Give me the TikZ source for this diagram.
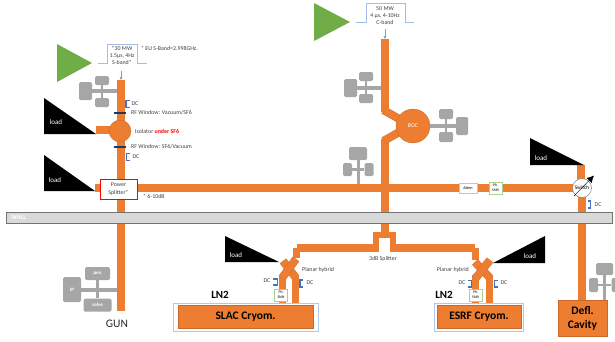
\documentclass[tikz,border=0pt]{standalone}
\usepackage{fontspec}
\setmainfont{Carlito}
\usetikzlibrary{arrows.meta, calc}
\definecolor{wgorange}{HTML}{ED7D31}
\definecolor{wgedge}{HTML}{C9682A}
\definecolor{klygreen}{HTML}{70AD47}
\definecolor{pumpgray}{HTML}{A6A6A6}
\definecolor{dcblue}{HTML}{4472C4}
\definecolor{pulseblue}{HTML}{A3BDE8}
\definecolor{shiftgreen}{HTML}{A9D18E}
\definecolor{boxblue}{HTML}{B4C7E7}
\definecolor{windownavy}{HTML}{1F3864}

\begin{document}
\begin{tikzpicture}[
    x=1pt,y=-1pt,
    wg/.style={draw=wgorange, line width=8pt},
    wgdiag/.style={draw=wgedge, line width=.3pt, double=wgorange, double distance=7.4pt},
    wgthin/.style={draw=wgorange, line width=7pt},
    pumpbox/.style={draw=none, rectangle, rounded corners=1.5pt, fill=pumpgray, inner sep=0pt, text=white, font=\fontsize{5}{5}\selectfont\bfseries},
    pumpbar/.style={draw=pumpgray, line width=2.5pt},
    labeltext/.style={inner sep=0pt, text=black!75, font=\fontsize{5.9}{7}\selectfont, align=center},
    loadtri/.style={fill=black},
    loadtext/.style={inner sep=0pt, text=white, font=\fontsize{7}{8}\selectfont},
    kly/.style={fill=klygreen},
    pulse/.style={draw=pulseblue, line width=.7pt},
    dcmark/.style={draw=dcblue, line width=1.3pt},
    window/.style={draw=windownavy, line width=1.1pt},
    shiftbox/.style={draw=shiftgreen, line width=.6pt, fill=white, inner sep=0pt, minimum width=13pt, minimum height=12pt, align=center, font=\fontsize{3.8}{5}\selectfont},
    cryobox/.style={draw=wgedge, line width=.3pt, fill=wgorange, inner sep=0pt, align=center, font=\fontsize{11.5}{14}\selectfont\bfseries},
    outerbox/.style={draw=boxblue, line width=.7pt}
]
    \useasboundingbox (0,0) rectangle (615,341);

    % --- Points where waveguides end ---
    \coordinate (sin) at (121,80);
    \coordinate (gun) at (121,311);
    \coordinate (cin) at (385,39);
    \coordinate (ctop) at (385,112);
    \coordinate (cbot) at (385,139);
    \coordinate (tee) at (385,235);
    \coordinate (armL) at (296.5,247.5);
    \coordinate (armR) at (475,248);
    \coordinate (hybL) at (296.5,258);
    \coordinate (hybR) at (475,260);

    % --- S-band line ---
    \draw[wg] (sin) -- (gun);
    \draw[wg] (96,130) -- (110,130);
    \draw[wg] (95,188) -- (105,188);
    \draw[wg] (130,188) -- (573,188);

    % --- C-band line ---
    \draw[wg] (cin) -- (ctop);
    \draw[wg] (cbot) -- (tee);
    \draw[wgdiag] (383.5,110) -- (401,120);
    \draw[wgdiag] (383.5,141) -- (401,131);
    \node[circle, draw=wgedge, line width=.3pt, fill=wgorange, minimum size=34pt, inner sep=0pt, text=white, font=\fontsize{5.8}{6}\selectfont] (boc) at (413,126) {BOC};

    % --- 3dB Splitter ---
    \fill[wgorange] (373,232) rectangle (396,238);
    \fill[wgorange] (373,232) rectangle (379,252);
    \fill[wgorange] (390,232) rectangle (396,252);
    \draw[wg] (armL) -- (376,247.5);
    \draw[wg] (393,248) -- (armR);
    \draw[wgthin] (armL) -- (hybL);
    \draw[wgthin] (armR) -- (hybR);

    % --- Hybrids and cryomodule feeds ---
    \draw[wgthin] (282.5,275) -- (282.5,304);
    \draw[wgthin] (295.5,275) -- (295.5,304);
    \draw[wgdiag] (283,261) -- (296,278);
    \draw[wgdiag] (296,259) -- (282,278);
    \draw[wgthin] (475.5,275) -- (475.5,304);
    \draw[wgthin] (489.5,275) -- (489.5,304);
    \draw[wgdiag] (475,262) -- (490,278);
    \draw[wgdiag] (490,260) -- (475,279);

    % --- Deflector line ---
    \draw[wg] (581,165) -- (581,180);
    \draw[wg] (582,196) -- (582,301);

    % --- WALL ---
    \node[draw=black!55, line width=.5pt, fill=black!15, rectangle, minimum width=606pt, minimum height=11pt, inner sep=0pt] (wall) at (309,217.5) {};
    \node[inner sep=0pt, anchor=west, text=white, font=\fontsize{6.5}{7}\selectfont\bfseries] (walltext) at (11,217.5) {WALL};

    % --- Klystrons ---
    \fill[kly] (57,44) -- (92,63) -- (57,82) -- cycle;
    \fill[kly] (314,3) -- (350,22) -- (314,41) -- cycle;
    \draw[pulse] (98,63) -- (107,63) -- (107,44) -- (137,44) -- (137,63) -- (147,63);
    \draw[pulse] (356,22) -- (366,22) -- (366,3) -- (405,3) -- (405,22) -- (414,22);
    \node[labeltext] (sband) at (122,55) {*30 MW\\1.5µs, 4Hz\\S-band*};
    \node[labeltext] (cband) at (385,16) {50 MW\\4 µs, 4-10Hz\\C-band};
    \node[labeltext, anchor=west] (euband) at (141,48) {* EU S-Band=2.998GHz.};
    \draw[-{Latex[length=3pt,width=3pt]}, draw=dcblue!70, line width=.5pt] (121,71) -- (sin);
    \draw[-{Latex[length=3pt,width=3pt]}, draw=dcblue!70, line width=.5pt] (385,29) -- (cin);

    % --- Loads ---
    \fill[loadtri] (44,98) -- (44,134) -- (96,134) -- cycle;
    \fill[loadtri] (44,155) -- (44,191) -- (95,191) -- cycle;
    \fill[loadtri] (225,236) -- (225,262) -- (279,262) -- cycle;
    \fill[loadtri] (545,236) -- (545,263) -- (493,263) -- cycle;
    \fill[loadtri] (530,138) -- (530,165) -- (584,165) -- cycle;
    \node[loadtext] (load1) at (56,122) {load};
    \node[loadtext] (load2) at (55,180) {load};
    \node[loadtext] (load3) at (236,255) {load};
    \node[loadtext] (load4) at (530,256) {load};
    \node[loadtext] (load5) at (541,158) {load};

    % --- Isolator and Power Splitter ---
    \node[circle, draw=wgedge, line width=.3pt, fill=wgorange, minimum size=22pt, inner sep=0pt] (isolator) at (120,131) {};
    \node[labeltext, anchor=west] (isotext) at (135,131) {Isolator \textcolor{red}{\textbf{under SF6}}};
    \node[draw=red, line width=1pt, fill=white, rectangle, minimum width=37pt, minimum height=20pt, inner sep=0pt, align=center, text=black!75, font=\fontsize{5.9}{8}\selectfont] (splitter) at (118.5,189) {Power\\Splitter*};
    \node[labeltext, anchor=west] (splitdb) at (143,196) {* 6-10dB};

    % --- RF windows ---
    \draw[window] (114,113) -- (126,113);
    \draw[window] (114,147) -- (126,147);
    \node[labeltext, anchor=west] (rfwin1) at (131,113) {RF Window: Vacuum/SF6};
    \node[labeltext, anchor=west] (rfwin2) at (131,147) {RF Window: SF6/Vacuum};

    % --- Directional couplers ---
    \draw[dcmark] (129.5,100.5) -- (126,100.5) -- (126,107.5) -- (129.5,107.5);
    \draw[dcmark] (130,153.5) -- (126.5,153.5) -- (126.5,160.5) -- (130,160.5);
    \draw[dcmark] (273,279) -- (277.5,279) -- (277.5,285) -- (273,285);
    \draw[dcmark] (303,280) -- (300,280) -- (300,287) -- (303,287);
    \draw[dcmark] (468,280.5) -- (471.5,280.5) -- (471.5,287) -- (468,287);
    \draw[dcmark] (498,280.5) -- (494.5,280.5) -- (494.5,287) -- (498,287);
    \draw[dcmark] (587.5,201) -- (590.5,201) -- (590.5,208) -- (587.5,208);
    \node[labeltext] (dc1) at (135,104) {DC};
    \node[labeltext] (dc2) at (136,157) {DC};
    \node[labeltext] (dc3) at (267,281) {DC};
    \node[labeltext] (dc4) at (310,283) {DC};
    \node[labeltext] (dc5) at (462,283) {DC};
    \node[labeltext] (dc6) at (504,283) {DC};
    \node[labeltext] (dc7) at (598,205) {DC};

    % --- Atten, Phase shifters and Switch ---
    \node[draw=boxblue, line width=.6pt, fill=white, inner sep=0pt, minimum width=18pt, minimum height=10pt, font=\fontsize{4.2}{5}\selectfont] (atten) at (468,188) {Atten};
    \node[shiftbox] (shift1) at (495.5,188) {Ph.\\Shift};
    \node[shiftbox] (shift2) at (281,295) {Ph.\\Shift};
    \node[shiftbox] (shift3) at (475.5,295) {Ph.\\Shift};
    \node[circle, draw=black!50, line width=.5pt, fill=white, minimum size=19pt, inner sep=0pt, font=\fontsize{5.4}{6}\selectfont] (switch) at (582,188) {Switch};
    \draw[-{Latex[length=7pt,width=7pt]}, line width=.4pt] (574,196) -- (594,175.5);

    % --- Hybrid labels ---
    \node[labeltext, anchor=west] (hyb1) at (302,270) {Planar hybrid};
    \node[labeltext, anchor=east] (hyb2) at (469,270) {Planar hybrid};
    \node[labeltext] (split3db) at (383,259) {3dB Splitter};

    % --- Cryomodules ---
    \draw[outerbox] (173,303) rectangle (318,331);
    \draw[outerbox] (434,303) rectangle (523,331);
    \node[cryobox, minimum width=135pt, minimum height=23pt] (slac) at (245.5,316.5) {SLAC Cryom.};
    \node[cryobox, minimum width=84pt, minimum height=23pt] (esrf) at (479,316.5) {ESRF Cryom.};
    \node[inner sep=0pt, text=black, font=\fontsize{11}{12}\selectfont\bfseries] (ln2a) at (220,295) {LN2};
    \node[inner sep=0pt, text=black, font=\fontsize{11}{12}\selectfont\bfseries] (ln2b) at (444,295) {LN2};
    \node[cryobox, minimum width=49pt, minimum height=36pt] (defl) at (582.5,318) {Defl.\\Cavity};
    \node[inner sep=0pt, text=black!85, font=\fontsize{11.5}{13}\selectfont] (guntext) at (117,324) {GUN};

    % --- Pump at S-band top ---
    \node[pumpbox, minimum width=13pt, minimum height=18pt] (ipa) at (85.5,91) {};
    \node[pumpbox, minimum width=14pt, minimum height=9pt] (pena) at (102,80.5) {};
    \node[pumpbox, minimum width=14pt, minimum height=9pt] (vala) at (102,102.5) {};
    \draw[pumpbar, line width=3.5pt] (ipa) -- (117,91);
    \draw[pumpbar] (pena) -- (vala);

    % --- Pump at C-band top ---
    \node[pumpbox, minimum width=13pt, minimum height=18pt] (ipb) at (350.5,88) {};
    \node[pumpbox, minimum width=14pt, minimum height=9pt] (penb) at (366,76.5) {};
    \node[pumpbox, minimum width=14pt, minimum height=9pt] (valb) at (366,98.5) {};
    \draw[pumpbar, line width=3.5pt] (ipb) -- (381,88);
    \draw[pumpbar] (penb) -- (valb);

    % --- Pump at BOC ---
    \node[pumpbox, minimum width=12pt, minimum height=18pt] (ipc) at (462,126) {};
    \node[pumpbox, minimum width=14pt, minimum height=10pt] (penc) at (446,114) {};
    \node[pumpbox, minimum width=14pt, minimum height=10pt] (valc) at (446,137) {};
    \draw[pumpbar, line width=3.5pt] (ipc) -- (boc);
    \draw[pumpbar] (penc) -- (valc);

    % --- Pump above Atten line ---
    \node[pumpbox, minimum width=18pt, minimum height=13pt] (ipd) at (358,153.5) {};
    \node[pumpbox, minimum width=9pt, minimum height=13pt] (pend) at (347.5,169.5) {};
    \node[pumpbox, minimum width=9pt, minimum height=13pt] (vald) at (369,169.5) {};
    \draw[pumpbar, line width=3pt] (ipd) -- (358,184);
    \draw[pumpbar] (pend) -- (vald);

    % --- Pump at Defl. Cavity ---
    \node[pumpbox, minimum width=17pt, minimum height=12pt] (ipe) at (604.5,269) {};
    \node[pumpbox, minimum width=9pt, minimum height=14pt] (pene) at (593.5,285) {};
    \node[pumpbox, minimum width=9pt, minimum height=14pt] (vale) at (616,285) {};
    \draw[pumpbar, line width=3pt] (ipe) -- (604.5,300);
    \draw[pumpbar] (pene) -- (vale);

    % --- Pump at GUN ---
    \node[pumpbox, minimum width=18pt, minimum height=25pt] (ipf) at (72,289.5) {IP};
    \node[pumpbox, minimum width=25pt, minimum height=13pt] (penf) at (97.5,273.5) {pen};
    \node[pumpbox, minimum width=28pt, minimum height=13pt] (valf) at (97.5,305) {valve};
    \draw[pumpbar, line width=4pt] (ipf) -- (117,289.5);
    \draw[pumpbar] (penf) -- (valf);

\end{tikzpicture}
\end{document}
